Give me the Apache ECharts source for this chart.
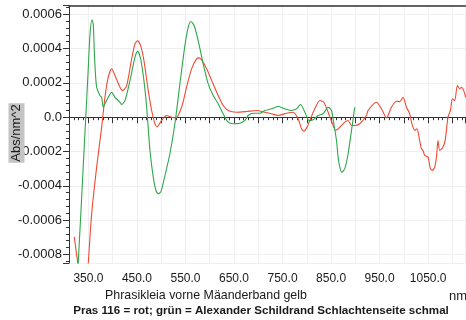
<!DOCTYPE html>
<html><head><meta charset="utf-8">
<script src="https://cdn.jsdelivr.net/npm/echarts@6/dist/echarts.min.js"></script>
<style>html,body{margin:0;padding:0;background:#fff}#c{width:466px;height:320px}</style>
</head><body><div id="c"></div>
<script>
const redWl = [320.9,329,336,342,346,349.7,356.7,367.0,377.3,384.1,390.9,397.9,404.7,415.0,420.6,428.8,439.1,445.9,451.4,457.6,464.4,473.3,480.3,487.1,491.8,500.9,511.2,521.5,530.3,542.0,552.3,562.6,572.9,578.3,586.5,596.8,607.1,617.4,627.7,638.0,655.3,675.9,696.5,713.5,727.3,740.9,758.2,771.8,782.1,789.1,793.8,800.6,806.2,816.5,826.8,835.0,843.9,852.9,859.7,868.0,878.3,885.1,892.1,898.8,909.1,922.9,926.2,943.5,953.8,964.1,974.4,984.7,991.5,998.3,1005.3,1012.1,1015.6,1022.4,1027.1,1031.2,1036.2,1039.5,1043.0,1049.8,1054.7,1058.8,1063.6,1067.1,1070.4,1073.9,1080.6,1085.6,1090.9,1095.9,1100.0,1104.7,1110.3,1115.0,1118.5,1123.3,1127.4];
const redAbs = [-0.000698,-0.00087,-0.00100,-0.00104,-0.00098,-0.00085,-0.000562,-0.000291,-0.000058,0.000116,0.000233,0.000282,0.000243,0.000175,0.000155,0.000184,0.00034,0.000427,0.000446,0.000417,0.00033,0.000155,0.000039,-0.000038,-0.000056,-0.000019,0.00001,0.0,-0.000004,0.000058,0.000175,0.000282,0.00034,0.000346,0.00032,0.000262,0.000194,0.000126,0.000068,0.000039,0.000029,0.000033,0.000039,0.000029,0.00002,0.00001,0.000023,0.000029,-0.000009,-0.000067,-0.000081,-0.000058,-0.000019,0.000049,0.000097,0.000087,0.000029,-0.000038,-0.000077,-0.000058,-0.000029,-0.000019,-0.000048,-0.000048,-0.000038,0.00001,0.000039,0.000087,0.000049,-0.000004,0.000058,0.000093,0.000091,0.000116,0.000058,0.00002,-0.000029,-0.000077,-0.000067,-0.000116,-0.000184,-0.000194,-0.000223,-0.000233,-0.0003,-0.00031,-0.000291,-0.000233,-0.000136,-0.000194,-0.000175,-0.000126,0.0,0.000039,0.000107,0.000097,0.000184,0.000165,0.000175,0.000155,0.000116];
const greenWl = [322,329,334.1,339,344,349,353.3,357.4,360.0,362.1,364.1,367.0,373.8,377.3,380.6,384.1,390.9,397.9,404.7,415.0,418.5,425.3,435.6,445.9,451.4,457.6,464.4,470.0,476.8,483.6,489.1,493.9,499.4,507.7,517.9,528.2,538.5,548.8,555.6,561.2,568.0,576.2,586.5,596.8,607.1,617.4,627.7,638.0,648.3,662.1,672.4,679.2,689.5,703.3,713.5,727.3,740.9,754.7,768.5,778.8,787.0,795.9,804.8,813.0,823.3,833.6,843.9,850.9,855.6,861.2,864.5,868.0,872.1,878.3,885.1,892.1,898.8];
const greenAbs = [-0.00125,-0.00085,-0.000577,-0.000303,-0.000029,0.000245,0.000485,0.000568,0.000541,0.000388,0.000272,0.000175,0.000126,0.000116,0.000058,0.000078,0.000116,0.000145,0.000116,0.000087,0.000074,0.000097,0.000213,0.000349,0.000384,0.00034,0.000213,0.000058,-0.000194,-0.000349,-0.000426,-0.000446,-0.000434,-0.00034,-0.000213,-0.000038,0.000194,0.000417,0.000524,0.000558,0.000533,0.000446,0.000311,0.000194,0.000126,0.000078,0.00002,-0.000029,-0.000038,-0.000035,-0.000019,0.00001,0.000023,0.000023,0.000039,0.000049,0.000062,0.000049,0.000039,0.000049,0.000074,0.00003,-0.00002,-0.000015,0.00001,0.00002,0.000058,0.000039,-0.000038,-0.000136,-0.000233,-0.000291,-0.00032,-0.0003,-0.000213,-0.000077,0.000058];
const xTitle = 'Phrasikleia vorne Mäanderband gelb';
const xUnit = 'nm';
const yTitle = 'Abs/nm^2';
const chartTitle = 'Pras 116 = rot; grün = Alexander Schildrand Schlachtenseite schmal';

const FONT = 'Liberation Sans';
const chart = echarts.init(document.getElementById('c'), null, {renderer:'canvas'});
const pairs = (a,b) => a.map((v,i)=>[v,b[i]]);
chart.setOption({
  animation:false,
  grid:{left:69,top:5.7,right:0.5,bottom:57,containLabel:false},
  xAxis:[{
    type:'value',min:310,max:1127,splitNumber:16,
    axisLine:{show:true,lineStyle:{color:'#333',width:1}},
    axisTick:{show:true,length:6,lineStyle:{color:'#333'}},
    minorTick:{show:true,splitNumber:5,length:3,lineStyle:{color:'#333'}},
    splitLine:{show:true,lineStyle:{color:'#efefef',width:1}},
    axisLabel:{margin:10,fontFamily:FONT,fontSize:12,color:'#1a1a1a',showMinLabel:false,showMaxLabel:false,
      formatter:v=>(Math.abs(((v-350)%100))<1e-6 ? v.toFixed(1) : '')}
  },{
    type:'value',min:310,max:1127,position:'top',
    axisLine:{show:true,lineStyle:{color:'#333',width:1.5}},axisTick:{show:false},axisLabel:{show:false},splitLine:{show:false}
  }],
  yAxis:{
    type:'value',min:-0.00085,max:0.00065,splitNumber:7,
    axisLine:{show:true,lineStyle:{color:'#333',width:1}},
    axisTick:{show:true,length:6,lineStyle:{color:'#333'}},
    minorTick:{show:true,splitNumber:5,length:3,lineStyle:{color:'#333'}},
    splitLine:{show:true,lineStyle:{color:'#efefef',width:1}},
    axisLabel:{margin:7,fontFamily:FONT,fontSize:13,color:'#1a1a1a',showMinLabel:false,showMaxLabel:false,
      formatter:v=>(Math.abs(v)<1e-12 ? '0.0' : v.toFixed(4))}
  },
  series:[
    {type:'line',data:pairs(redWl,redAbs),showSymbol:false,smooth:0.25,clip:true,lineStyle:{color:'#f04a35',width:1.1},z:2},
    {type:'line',data:pairs(greenWl,greenAbs),showSymbol:false,smooth:0.25,clip:true,lineStyle:{color:'#2ea64c',width:1.1},z:3}
  ],
  graphic:[
    {type:'text',x:206,y:296,z:100,style:{text:xTitle,font:'12.4px '+FONT,fill:'#1a1a1a',align:'center',verticalAlign:'middle'}},
    {type:'text',x:449,y:296,z:100,style:{text:xUnit,font:'13px '+FONT,fill:'#1a1a1a',align:'left',verticalAlign:'middle'}},
    {type:'text',x:261,y:311,z:100,style:{text:chartTitle,font:'bold 11.6px '+FONT,fill:'#1a1a1a',align:'center',verticalAlign:'middle'}},
    {type:'text',x:16.5,y:133,rotation:Math.PI/2,z:100,style:{text:yTitle,font:'13px '+FONT,fill:'#1a1a1a',align:'center',verticalAlign:'middle',backgroundColor:'#c4c4c4',padding:[2,1,1,1]}}
  ]
});
</script></body></html>
